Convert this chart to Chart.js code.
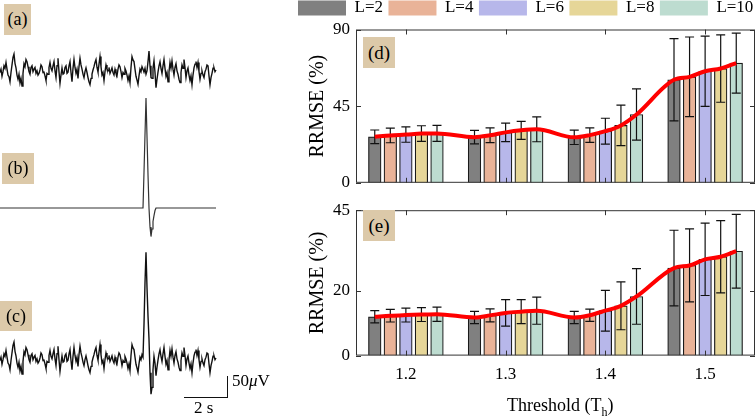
<!DOCTYPE html>
<html>
<head>
<meta charset="utf-8">
<script src="https://cdn.jsdelivr.net/npm/chart.js@4.4.1/dist/chart.umd.min.js"></script>
<style>
  body { margin: 0; background: #fff; width: 756px; height: 420px; overflow: hidden; position: relative; font-family: "Liberation Serif", serif; }
  canvas { position: absolute; }
  .tag { position: absolute; background: #dcc9a9; font-size: 18px; display: flex; align-items: center; justify-content: center; }
  .txt { position: absolute; white-space: nowrap; color: #000; }
  .bar { position: absolute; background: #111; }
</style>
</head>
<body>
<canvas id="traces" width="290" height="420" style="left:0;top:0"></canvas>
<canvas id="chartD" width="476" height="205" style="left:280px;top:-6px"></canvas>
<canvas id="chartE" width="476" height="200" style="left:280px;top:194px"></canvas>

<div class="tag" style="left:4px;top:4px;width:27px;height:31px">(a)</div>
<div class="tag" style="left:2px;top:153px;width:32px;height:31px">(b)</div>
<div class="tag" style="left:0px;top:301px;width:32px;height:30px">(c)</div>
<div class="tag" style="left:363px;top:37px;width:32px;height:31px;font-size:19px">(d)</div>
<div class="tag" style="left:363px;top:210px;width:32px;height:31px;font-size:19px">(e)</div>

<!-- scale bar -->
<div class="bar" style="left:227px;top:376px;width:1.3px;height:21px"></div>
<div class="bar" style="left:184px;top:396.5px;width:44px;height:1.3px"></div>
<div class="txt" style="left:232px;top:371px;font-size:17px;line-height:20px">50<i>μ</i>V</div>
<div class="txt" style="left:194px;top:398px;font-size:17px;line-height:20px">2 s</div>

<div class="txt" style="left:507px;top:395px;font-size:18px;line-height:20px">Threshold (T<sub style="font-size:12px">h</sub>)</div>

<script>
// ---- left: raw traces (µV), 22 samples per second ----
const sampleRate = 22;
const noise = [
  -6, 2, -15, -4, 10, 4, 18, 2, -12, -16, -28, -6, 12, 30, 38, 16, 5, -12, -22, -10,
  -31, -20, -38, -8, 15, 8, 25, 20, 8, -4, -10, 6, 10, -4, 2, 6, -8, -2, -12, -8,
  0, 12, 8, -6, -5, -14, -25, -8, -10, 6, 18, 4, -2, 10, 20, -2, -18, 10, 28, -4,
  -32, -12, 5, -10, -8, 6, 10, -8, -5, 10, 20, -6, -28, 4, 25, 6, -8, 2, -20, 8,
  28, 12, 2, -10, -18, -4, 5, -6, -18, -28, -35, -20, -10, 0, 8, 18, 25, 6, -5, 14,
  32, 8, -12, -6, -25, -4, 12, 2, -2, 6, -8, -2, 5, -6, -12, 2, -8, -14, 2, 12,
  8, -4, -18, -6, -10, 4, -2, -12, -25, -14, -30, 6, 32, 24, 20, 2, -15, -24, -34, -14,
  2, -4, 8, 2, -5, 4, -10, -2, 20, 45, 10, -18, -20, 4, 22, -6, -42, -22, -5, 10,
  20, 4, -8, 10, 25, 4, -15, -6, -28, -4, 18, 4, 22, 2, -12, 6, 15, -2, -10, -22,
  -30, -6, 12, 4, 25, 6, -18, -2, 5, -12, -25, -14, -35, -12, 5, 14, 20, 6, 18, -4,
  -22, -8, -2, -12, -18, -4, 2, 12, 10, -14, -35, -18, -8, 4, 5, -4, 0
];
const spikeStart = 143;
const spikeShape = [0, 85, 175, 262, 170, 80, 0, -45, -68, -50, -32, -18, -6, 0];

const spike = noise.map((v, i) => {
  const k = i - spikeStart;
  return k >= 0 && k < spikeShape.length ? spikeShape[k] : 0;
});
const traceC = noise.map((v, i) => v + spike[i]);

const pxPerUv = 0.42;
const traceH = 420;
function traceAxis(basePx) {
  return { display: false, min: -(traceH - basePx) / pxPerUv, max: basePx / pxPerUv };
}
function pts(arr) {
  return arr.map((v, i) => ({ x: i / sampleRate, y: v }));
}

new Chart(document.getElementById('traces'), {
  type: 'line',
  data: {
    datasets: [
      { data: pts(noise), yAxisID: 'ya', borderColor: '#111', borderWidth: 1.4 },
      { data: pts(spike), yAxisID: 'yb', borderColor: '#333', borderWidth: 1.2 },
      { data: pts(traceC), yAxisID: 'yc', borderColor: '#111', borderWidth: 1.4 }
    ]
  },
  options: {
    responsive: false,
    animation: false,
    events: [],
    elements: { point: { radius: 0 }, line: { tension: 0 } },
    layout: { padding: 0 },
    plugins: { legend: { display: false }, tooltip: { enabled: false } },
    scales: {
      x: { type: 'linear', display: false, min: 0, max: 290 / 22 },
      ya: traceAxis(70),
      yb: traceAxis(208),
      yc: traceAxis(358)
    }
  }
});

// ---- right: RRMSE bars ----
const thresholds = [1.2, 1.3, 1.4, 1.5];
const seriesNames = ['L=2', 'L=4', 'L=6', 'L=8', 'L=10'];
const fills = ['#808080', '#e9b398', '#b7b7ea', '#e6d698', '#bddcd0'];

// panel (d): mean and std per L, across thresholds
const meanD = [
  [27.0, 26.8, 26.7, 60.5],
  [27.8, 27.9, 28.0, 62.2],
  [28.3, 29.6, 30.3, 65.5],
  [28.9, 30.8, 33.7, 67.1],
  [29.0, 31.4, 40.1, 70.3]
];
const stdD = [
  [4.0, 4.0, 4.2, 24.2],
  [4.3, 4.3, 4.3, 23.4],
  [4.5, 5.4, 7.6, 20.6],
  [4.6, 5.3, 11.9, 19.8],
  [4.7, 7.3, 15.0, 17.6]
];
const yTicksD = [0, 45, 90];

// panel (e)
const meanE = [
  [12.0, 11.8, 11.8, 27.1],
  [12.35, 12.45, 12.5, 27.9],
  [12.55, 13.2, 13.9, 29.8],
  [12.7, 13.6, 15.4, 30.6],
  [12.8, 13.9, 18.3, 32.3]
];
const stdE = [
  [1.9, 1.9, 1.9, 11.7],
  [1.95, 2.0, 1.9, 11.3],
  [2.15, 4.1, 6.3, 11.2],
  [2.15, 3.7, 7.4, 11.2],
  [2.2, 4.2, 8.6, 11.4]
];
const yTicksE = [0, 20, 45];

const slot = 0.0156;   // spacing of bars inside a group, in threshold units
const barPx = 12.6;

Chart.defaults.font.family = '"Liberation Serif", serif';
Chart.defaults.color = '#000';

const errorBars = {
  id: 'errorBars',
  afterDatasetDraw(chart, args, opts) {
    if (args.index >= opts.errors.length) return;
    const ds = chart.data.datasets[args.index];
    const y = chart.scales.y;
    const ctx = chart.ctx;
    ctx.save();
    ctx.strokeStyle = '#111';
    ctx.lineWidth = 1.2;
    ctx.beginPath();
    args.meta.data.forEach((bar, j) => {
      const m = ds.data[j].y, e = opts.errors[args.index][j];
      const top = y.getPixelForValue(m + e), bot = y.getPixelForValue(m - e);
      ctx.moveTo(bar.x, top); ctx.lineTo(bar.x, bot);
      ctx.moveTo(bar.x - 4.5, top); ctx.lineTo(bar.x + 4.5, top);
      ctx.moveTo(bar.x - 4.5, bot); ctx.lineTo(bar.x + 4.5, bot);
    });
    ctx.stroke();
    ctx.restore();
  }
};

// box around plot with inward ticks on all four sides
const frame = {
  id: 'frame',
  afterDatasetsDraw(chart) {
    const { ctx, chartArea: a, scales } = chart;
    ctx.save();
    ctx.strokeStyle = '#333';
    ctx.lineWidth = 1;
    ctx.strokeRect(a.left + 0.5, a.top + 0.5, a.width - 1, a.height - 1);
    ctx.beginPath();
    scales.x.ticks.forEach(t => {
      const px = Math.round(scales.x.getPixelForValue(t.value)) + 0.5;
      ctx.moveTo(px, a.top); ctx.lineTo(px, a.top + 5);
      ctx.moveTo(px, a.bottom); ctx.lineTo(px, a.bottom - 5);
    });
    scales.y.ticks.forEach(t => {
      const py = Math.round(scales.y.getPixelForValue(t.value)) + 0.5;
      ctx.moveTo(a.left, py); ctx.lineTo(a.left + 5, py);
      ctx.moveTo(a.right, py); ctx.lineTo(a.right - 5, py);
    });
    ctx.stroke();
    ctx.restore();
  }
};

// legend: a bit more room below it, and its first box starts at x = 298 on the page
const legendLeft = 298 - 280;
const legendTweak = {
  id: 'legendTweak',
  beforeInit(chart) {
    const lg = chart.legend;
    if (!lg) return;
    const fit = lg.fit;
    lg.fit = function () { fit.call(this); this.height += 3; };
    const draw = lg.draw;
    lg.draw = function () {
      const boxes = this.legendHitBoxes;
      const dx = boxes && boxes.length ? legendLeft - boxes[0].left : 0;
      this.ctx.save();
      this.ctx.translate(dx, 0);
      draw.apply(this, arguments);
      this.ctx.restore();
    };
  }
};

function buildChart(id, means, stds, yMax, yTicks, showX, showLegend) {
  const datasets = seriesNames.map((name, k) => ({
    label: name,
    data: thresholds.map((t, i) => ({ x: t + (k - 2) * slot, y: means[k][i] })),
    backgroundColor: fills[k],
    borderColor: '#1a1a1a',
    borderWidth: 1.2,
    grouped: false,
    barThickness: barPx,
    order: 1
  }));
  const linePts = [];
  thresholds.forEach((t, i) => {
    seriesNames.forEach((n, k) => linePts.push({ x: t + (k - 2) * slot, y: means[k][i] }));
  });
  datasets.push({
    type: 'line',
    label: 'mean',
    data: linePts,
    borderColor: '#ff0000',
    borderWidth: 4,
    pointRadius: 0,
    cubicInterpolationMode: 'monotone',
    order: 0
  });

  return new Chart(document.getElementById(id), {
    type: 'bar',
    data: { datasets },
    plugins: [errorBars, frame, legendTweak],
    options: {
      responsive: false,
      animation: false,
      events: [],
      layout: { padding: { right: 1 } },
      plugins: {
        tooltip: { enabled: false },
        errorBars: { errors: stds },
        legend: {
          display: showLegend,
          position: 'top',
          labels: {
            boxWidth: 48,
            boxHeight: 15,
            padding: 5.5,
            font: { size: 17 },
            color: '#000',
            generateLabels(chart) {
              return Chart.defaults.plugins.legend.labels.generateLabels(chart)
                .filter(l => l.datasetIndex < seriesNames.length)
                .map(l => Object.assign(l, { lineWidth: 0, strokeStyle: 'rgba(0,0,0,0)' }));
            }
          }
        }
      },
      scales: {
        x: {
          type: 'linear',
          offset: false,
          min: 1.15,
          max: 1.55,
          afterBuildTicks: s => { s.ticks = thresholds.map(v => ({ value: v })); },
          grid: { display: false, drawTicks: false },
          border: { display: false },
          ticks: { display: showX, padding: 9, font: { size: 17 }, color: '#000', callback: v => v.toFixed(1) }
        },
        y: {
          min: 0,
          max: yMax,
          afterBuildTicks: s => { s.ticks = yTicks.map(v => ({ value: v })); },
          afterFit: s => { s.width = 76; },
          grid: { display: false, drawTicks: false },
          border: { display: false },
          ticks: { padding: 6, font: { size: 17 }, color: '#000' },
          title: { display: true, text: 'RRMSE (%)', font: { size: 20 }, color: '#000', padding: { top: 26, bottom: 0 } }
        }
      }
    }
  });
}

buildChart('chartD', meanD, stdD, 90, yTicksD, false, true);
buildChart('chartE', meanE, stdE, 45, yTicksE, true, false);
</script>
</body>
</html>
